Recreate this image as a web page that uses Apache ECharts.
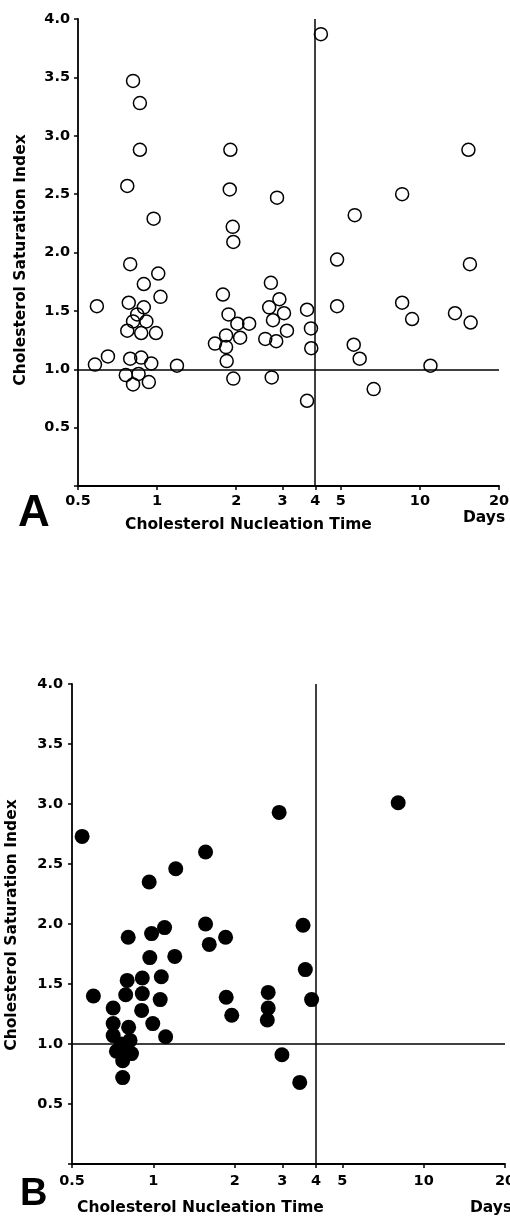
<!DOCTYPE html>
<html>
<head>
<meta charset="utf-8">
<script src="https://cdn.jsdelivr.net/npm/echarts@6/dist/echarts.min.js"></script>
<style>
  html, body { margin: 0; padding: 0; background: #fff; }
  #chart { width: 510px; height: 1219px; }
</style>
</head>
<body>
<div id="chart"></div>
<script>
// ---- Data (nucleation time in days, cholesterol saturation index) ----
const topDays = [0.81, 0.86, 0.86, 0.77, 0.97, 1.90, 1.89, 1.94, 1.95, 4.2, 15.3, 2.86, 8.56, 5.65, 4.84, 15.5,
  0.79, 1.01, 0.89, 1.03, 0.59, 0.78, 0.89, 0.84, 0.81, 0.91, 0.77, 0.87, 0.99, 0.65, 0.58, 0.79, 0.87, 0.95, 1.19,
  0.76, 0.85, 0.81, 0.93, 1.78, 1.87, 2.02, 2.24, 1.83, 2.07, 1.66, 1.83, 1.84, 1.95,
  2.71, 2.92, 2.67, 3.04, 2.76, 3.12, 2.58, 2.84, 2.73, 3.72, 3.85, 3.86, 3.72,
  4.84, 5.6, 5.9, 6.67, 8.56, 9.34, 10.97, 13.6, 15.6];
const topCSI = [3.47, 3.28, 2.88, 2.57, 2.29, 2.88, 2.54, 2.22, 2.09, 3.87, 2.88, 2.47, 2.50, 2.32, 1.94, 1.90,
  1.90, 1.82, 1.73, 1.62, 1.54, 1.57, 1.53, 1.47, 1.41, 1.41, 1.33, 1.31, 1.31, 1.11, 1.04, 1.09, 1.10, 1.05, 1.03,
  0.95, 0.96, 0.87, 0.89, 1.64, 1.47, 1.39, 1.39, 1.29, 1.27, 1.22, 1.19, 1.07, 0.92,
  1.74, 1.60, 1.53, 1.48, 1.42, 1.33, 1.26, 1.24, 0.93, 1.51, 1.35, 1.18, 0.73,
  1.54, 1.21, 1.09, 0.83, 1.57, 1.43, 1.03, 1.48, 1.40];

const botDays = [0.545, 0.965, 1.21, 1.56, 2.92, 8.05,
  0.60, 0.807, 0.985, 1.10, 0.97, 1.20, 1.56, 1.61, 1.85, 1.86, 1.95,
  0.80, 0.91, 1.07, 0.79, 0.91, 1.06, 0.905, 0.995, 1.11,
  0.71, 0.71, 0.71, 0.73, 0.81, 0.82, 0.77, 0.83, 0.77, 0.76, 0.79,
  3.58, 3.65, 3.85, 2.66, 2.66, 2.64, 2.99, 3.48];
const botCSI = [2.73, 2.35, 2.46, 2.60, 2.93, 3.01,
  1.40, 1.89, 1.92, 1.97, 1.72, 1.73, 2.00, 1.83, 1.89, 1.39, 1.24,
  1.53, 1.55, 1.56, 1.41, 1.42, 1.37, 1.28, 1.17, 1.06,
  1.30, 1.17, 1.07, 0.94, 1.14, 1.03, 0.86, 0.92, 0.72, 1.00, 0.97,
  1.99, 1.62, 1.37, 1.43, 1.30, 1.20, 0.91, 0.68];

const xTicks = [0.5, 1, 2, 3, 4, 5, 10, 20];
const yMin = 0, yMax = 4, yStep = 0.5;
const xMin = 0.5, xMax = 20;
const refDays = 4, refCSI = 1.0;

const xTitle = 'Cholesterol Nucleation Time';
const yTitle = 'Cholesterol Saturation Index';
const unitLabel = 'Days';

// ---- Chart ----
const L = Math.log10;
const tickFont = { fontFamily: 'DejaVu Sans', fontWeight: 'bold', fontSize: 14.5, color: '#000' };
const titleFont = 'bold 15.5px "DejaVu Sans"';

function xAxisCfg(gi, margin) {
  return {
    type: 'value', gridIndex: gi, min: L(xMin), max: L(xMax),
    splitLine: { show: false },
    axisLine: { show: true, onZero: false, lineStyle: { color: '#000', width: 1.8 } },
    axisTick: { show: true, customValues: xTicks.map(L), length: 4, inside: false, lineStyle: { color: '#000', width: 1.5 } },
    axisLabel: Object.assign({ customValues: xTicks.map(L), margin: margin,
      formatter: v => String(Math.round(Math.pow(10, v) * 10) / 10) }, tickFont)
  };
}
function yAxisCfg(gi, margin) {
  return {
    type: 'value', gridIndex: gi, min: yMin, max: yMax, interval: yStep,
    splitLine: { show: false },
    axisLine: { show: true, onZero: false, lineStyle: { color: '#000', width: 1.8 } },
    axisTick: { show: true, length: 4, lineStyle: { color: '#000', width: 1.5 } },
    axisLabel: Object.assign({ margin: margin, formatter: v => (v === 0 ? '' : v.toFixed(1)) }, tickFont)
  };
}
function refLines() {
  return {
    silent: true, symbol: 'none', label: { show: false },
    lineStyle: { color: '#000', width: 1.5, type: 'solid' },
    emphasis: { disabled: true },
    data: [{ xAxis: L(refDays) }, { yAxis: refCSI }]
  };
}

const chart = echarts.init(document.getElementById('chart'), null, { renderer: 'canvas' });
chart.setOption({
  animation: false,
  backgroundColor: '#fff',
  grid: [
    { left: 78, top: 19, width: 421, height: 467, containLabel: false, outerBoundsMode: 'none' },
    { left: 72, top: 684, width: 433, height: 480, containLabel: false, outerBoundsMode: 'none' }
  ],
  xAxis: [xAxisCfg(0, 8), xAxisCfg(1, 10)],
  yAxis: [yAxisCfg(0, 8), yAxisCfg(1, 9)],
  series: [
    {
      type: 'scatter', xAxisIndex: 0, yAxisIndex: 0,
      data: topDays.map((d, i) => [L(d), topCSI[i]]),
      symbol: 'circle', symbolSize: 13,
      itemStyle: { color: 'rgba(0,0,0,0)', borderColor: '#000', borderWidth: 1.5, opacity: 1 },
      markLine: refLines()
    },
    {
      type: 'scatter', xAxisIndex: 1, yAxisIndex: 1,
      data: botDays.map((d, i) => [L(d), botCSI[i]]),
      symbol: 'circle', symbolSize: 15,
      itemStyle: { color: '#000', opacity: 1 },
      markLine: refLines()
    }
  ],
  graphic: [
    { type: 'text', x: 18, y: 514, style: { text: 'A', font: 'bold 44px "Liberation Sans"', fill: '#000', textVerticalAlign: 'middle' } },
    { type: 'text', x: 20, y: 1195, style: { text: 'B', font: 'bold 38px "Liberation Sans"', fill: '#000', textVerticalAlign: 'middle' } },
    { type: 'text', x: 125, y: 525, style: { text: xTitle, font: titleFont, fill: '#000', textVerticalAlign: 'middle' } },
    { type: 'text', x: 77, y: 1208, style: { text: xTitle, font: titleFont, fill: '#000', textVerticalAlign: 'middle' } },
    { type: 'text', x: 463, y: 518, style: { text: unitLabel, font: titleFont, fill: '#000', textVerticalAlign: 'middle' } },
    { type: 'text', x: 470, y: 1208, style: { text: unitLabel, font: titleFont, fill: '#000', textVerticalAlign: 'middle' } },
    { type: 'text', x: 21, y: 260, rotation: Math.PI / 2, style: { text: yTitle, font: titleFont, fill: '#000', textAlign: 'center', textVerticalAlign: 'middle' } },
    { type: 'text', x: 12, y: 925, rotation: Math.PI / 2, style: { text: yTitle, font: titleFont, fill: '#000', textAlign: 'center', textVerticalAlign: 'middle' } }
  ]
});
</script>
</body>
</html>
